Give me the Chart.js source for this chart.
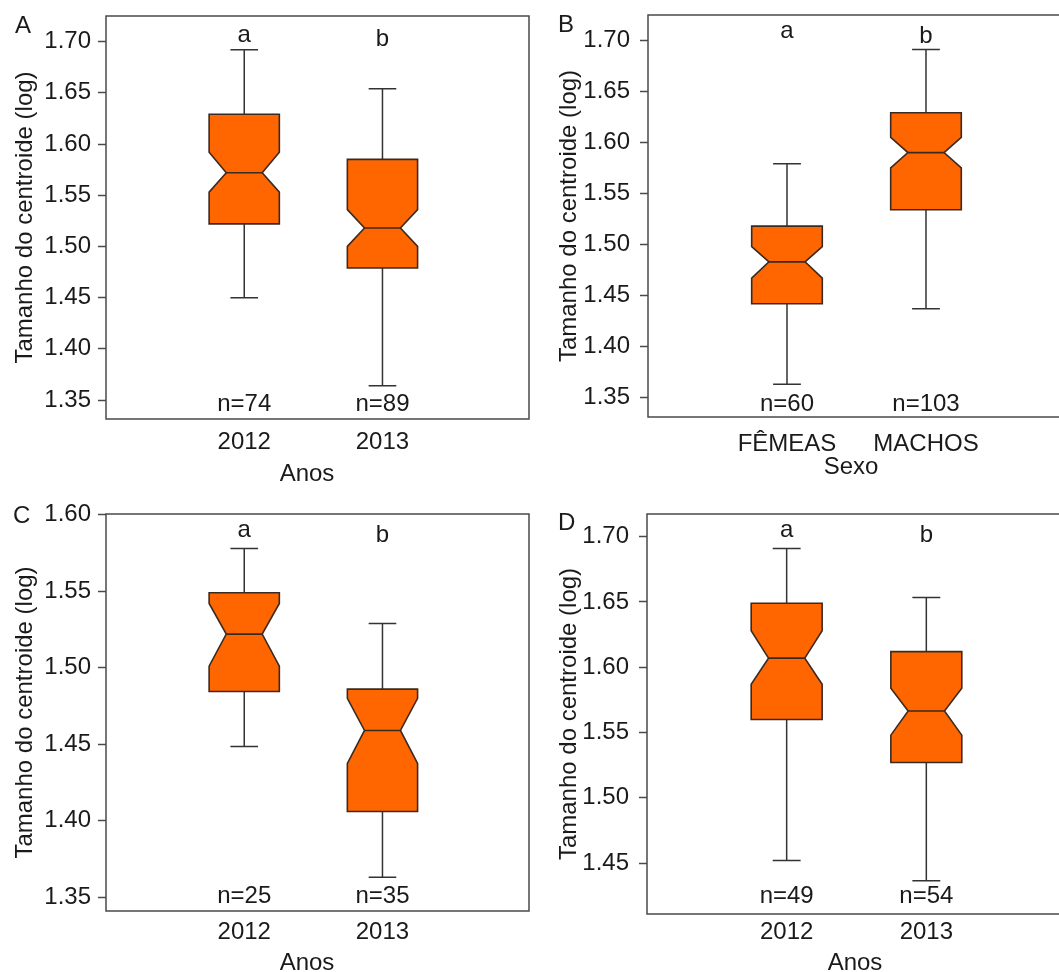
<!DOCTYPE html>
<html lang="pt">
<head>
<meta charset="utf-8">
<title>Tamanho do centroide (log)</title>
<script src="https://cdn.jsdelivr.net/npm/chart.js@4/dist/chart.umd.min.js"></script>
<style>
  html, body { margin: 0; padding: 0; background: #fff; }
  #figure { position: relative; width: 1059px; height: 972px; overflow: hidden; }
  #figure canvas { position: absolute; }
</style>
</head>
<body>
<div id="figure">
  <canvas id="panel-a"></canvas>
  <canvas id="panel-b"></canvas>
  <canvas id="panel-c"></canvas>
  <canvas id="panel-d"></canvas>
</div>
<script>
// ---- data ----
const yearCategories = ["2012", "2013"];
const sexCategories = ["FÊMEAS", "MACHOS"];
const groupLetters = ["a", "b"];

const yTicksFull = [1.35, 1.40, 1.45, 1.50, 1.55, 1.60, 1.65, 1.70];
const yTicksC = [1.35, 1.40, 1.45, 1.50, 1.55, 1.60];
const yTicksD = [1.45, 1.50, 1.55, 1.60, 1.65, 1.70];

// A: anos
const whiskerLowA = [1.450, 1.364];
const q1A = [1.522, 1.479];
const notchLowA = [1.553, 1.500];
const medianA = [1.572, 1.518];
const notchHighA = [1.592, 1.536];
const q3A = [1.629, 1.585];
const whiskerHighA = [1.692, 1.654];
const countsA = [74, 89];

// B: sexo
const whiskerLowB = [1.363, 1.437];
const q1B = [1.442, 1.534];
const notchLowB = [1.467, 1.575];
const medianB = [1.483, 1.590];
const notchHighB = [1.498, 1.605];
const q3B = [1.518, 1.629];
const whiskerHighB = [1.579, 1.691];
const countsB = [60, 103];

// C: anos (fêmeas)
const whiskerLowC = [1.4485, 1.363];
const q1C = [1.4845, 1.406];
const notchLowC = [1.501, 1.4375];
const medianC = [1.522, 1.459];
const notchHighC = [1.542, 1.480];
const q3C = [1.549, 1.486];
const whiskerHighC = [1.578, 1.529];
const countsC = [25, 35];

// D: anos (machos)
const whiskerLowD = [1.452, 1.4365];
const q1D = [1.560, 1.527];
const notchLowD = [1.587, 1.548];
const medianD = [1.607, 1.5665];
const notchHighD = [1.628, 1.584];
const q3D = [1.649, 1.612];
const whiskerHighD = [1.691, 1.6535];
const countsD = [49, 54];

// ---- look ----
const FONT = '"Liberation Sans", Arial, Helvetica, sans-serif';
const TEXT = "#1a1a1a";
const BOX_FILL = "#ff6600";
const BOX_LINE = "#3a2a22";
const AXIS_LINE = "#4a4a4a";

const panels = [
  {
    id: "panel-a", label: "A", categories: yearCategories, xTitle: "Anos", yTicks: yTicksFull,
    stats: { wl: whiskerLowA, q1: q1A, nl: notchLowA, med: medianA, nh: notchHighA, q3: q3A, wh: whiskerHighA, n: countsA },
    yMin: 1.3315, yMax: 1.725, xMax: 3.06,
    geo: { left: 0, top: 0, w: 530, h: 490, areaLeft: 106, areaTop: 16, areaRight: 529, areaBottom: 419,
      yTickPad: 7, yTitlePad: 11, xTickPad: 9, xTitleX: 307, xTitleY: 481,
      labelX: 15, labelY: 33, letterY: [42, 46], nY: 411, rightEdge: true },
  },
  {
    id: "panel-b", label: "B", categories: sexCategories, xTitle: "Sexo", yTicks: yTicksFull,
    stats: { wl: whiskerLowB, q1: q1B, nl: notchLowB, med: medianB, nh: notchHighB, q3: q3B, wh: whiskerHighB, n: countsB },
    yMin: 1.331, yMax: 1.7248, xMax: 2.957,
    geo: { left: 530, top: 0, w: 529, h: 490, areaLeft: 118, areaTop: 15, areaRight: 529, areaBottom: 417,
      yTickPad: 10, yTitlePad: 25, xTickPad: 13, xTitleX: 321, xTitleY: 474,
      labelX: 28, labelY: 32, letterY: [38, 43], nY: 411, rightEdge: false },
  },
  {
    id: "panel-c", label: "C", categories: yearCategories, xTitle: "Anos", yTicks: yTicksC,
    stats: { wl: whiskerLowC, q1: q1C, nl: notchLowC, med: medianC, nh: notchHighC, q3: q3C, wh: whiskerHighC, n: countsC },
    yMin: 1.341, yMax: 1.6005, xMax: 3.06,
    geo: { left: 0, top: 490, w: 530, h: 482, areaLeft: 106, areaTop: 24, areaRight: 529, areaBottom: 421,
      yTickPad: 7, yTitlePad: 11, xTickPad: 7, xTitleX: 307, xTitleY: 480,
      labelX: 13, labelY: 33, letterY: [47, 52], nY: 413, rightEdge: true },
  },
  {
    id: "panel-d", label: "D", categories: yearCategories, xTitle: "Anos", yTicks: yTicksD,
    stats: { wl: whiskerLowD, q1: q1D, nl: notchLowD, med: medianD, nh: notchHighD, q3: q3D, wh: whiskerHighD, n: countsD },
    yMin: 1.411, yMax: 1.7174, xMax: 2.95,
    geo: { left: 530, top: 490, w: 529, h: 482, areaLeft: 117, areaTop: 24, areaRight: 529, areaBottom: 424,
      yTickPad: 10, yTitlePad: 25, xTickPad: 4, xTitleX: 325, xTitleY: 480,
      labelX: 28, labelY: 40, letterY: [47, 52], nY: 413, rightEdge: false },
  },
];

// Notched boxes, whiskers, frame and annotations, all placed through the chart scales
const notchedBoxPlugin = {
  id: "notchedBoxes",
  afterDatasetsDraw(chart, args, opts) {
    const p = opts.panel;
    const g = p.geo;
    const s = p.stats;
    const { ctx, chartArea: area } = chart;
    const x = chart.scales.x;
    const y = chart.scales.y;
    const halfBox = 0.254;
    const halfNotch = 0.13;
    const halfCap = 0.1;

    ctx.save();
    ctx.lineJoin = "miter";
    p.categories.forEach((cat, i) => {
      const c = i + 1;
      const cx = x.getPixelForValue(c);
      const l = x.getPixelForValue(c - halfBox);
      const r = x.getPixelForValue(c + halfBox);
      const nl = x.getPixelForValue(c - halfNotch);
      const nr = x.getPixelForValue(c + halfNotch);
      const capL = x.getPixelForValue(c - halfCap);
      const capR = x.getPixelForValue(c + halfCap);
      const yWl = y.getPixelForValue(s.wl[i]);
      const yQ1 = y.getPixelForValue(s.q1[i]);
      const yNl = y.getPixelForValue(s.nl[i]);
      const yMed = y.getPixelForValue(s.med[i]);
      const yNh = y.getPixelForValue(s.nh[i]);
      const yQ3 = y.getPixelForValue(s.q3[i]);
      const yWh = y.getPixelForValue(s.wh[i]);

      // whiskers
      ctx.strokeStyle = "#333";
      ctx.lineWidth = 1.5;
      ctx.beginPath();
      ctx.moveTo(cx, yQ3); ctx.lineTo(cx, yWh);
      ctx.moveTo(capL, yWh); ctx.lineTo(capR, yWh);
      ctx.moveTo(cx, yQ1); ctx.lineTo(cx, yWl);
      ctx.moveTo(capL, yWl); ctx.lineTo(capR, yWl);
      ctx.stroke();

      // notched box
      ctx.beginPath();
      ctx.moveTo(l, yQ3);
      ctx.lineTo(r, yQ3);
      ctx.lineTo(r, yNh);
      ctx.lineTo(nr, yMed);
      ctx.lineTo(r, yNl);
      ctx.lineTo(r, yQ1);
      ctx.lineTo(l, yQ1);
      ctx.lineTo(l, yNl);
      ctx.lineTo(nl, yMed);
      ctx.lineTo(l, yNh);
      ctx.closePath();
      ctx.fillStyle = BOX_FILL;
      ctx.fill();
      ctx.strokeStyle = BOX_LINE;
      ctx.lineWidth = 1.6;
      ctx.stroke();

      ctx.beginPath();
      ctx.moveTo(nl, yMed);
      ctx.lineTo(nr, yMed);
      ctx.stroke();

      // group letter and sample size
      ctx.fillStyle = TEXT;
      ctx.font = `24px ${FONT}`;
      ctx.textAlign = "center";
      ctx.textBaseline = "alphabetic";
      ctx.fillText(groupLetters[i], cx, g.letterY[i]);
      ctx.fillText(`n=${s.n[i]}`, cx, g.nY);
    });

    // plot frame
    ctx.strokeStyle = AXIS_LINE;
    ctx.lineWidth = 1.5;
    ctx.beginPath();
    if (g.rightEdge) {
      ctx.moveTo(area.right, area.top);
      ctx.lineTo(area.left, area.top);
      ctx.lineTo(area.left, area.bottom);
      ctx.lineTo(area.right, area.bottom);
      ctx.closePath();
    } else {
      ctx.moveTo(area.right + 2, area.top);
      ctx.lineTo(area.left, area.top);
      ctx.lineTo(area.left, area.bottom);
      ctx.lineTo(area.right + 2, area.bottom);
    }
    ctx.stroke();

    // panel letter and x title
    ctx.fillStyle = TEXT;
    ctx.font = `24px ${FONT}`;
    ctx.textAlign = "left";
    ctx.textBaseline = "alphabetic";
    ctx.fillText(p.label, g.labelX, g.labelY);
    ctx.textAlign = "center";
    ctx.fillText(p.xTitle, g.xTitleX, g.xTitleY);
    ctx.restore();
  },
};

function buildChart(p) {
  const g = p.geo;
  const canvas = document.getElementById(p.id);
  canvas.width = g.w;
  canvas.height = g.h;
  canvas.style.left = g.left + "px";
  canvas.style.top = g.top + "px";
  canvas.style.width = g.w + "px";
  canvas.style.height = g.h + "px";

  const tickFont = { family: FONT, size: 24, lineHeight: 1.2 };

  return new Chart(canvas.getContext("2d"), {
    type: "scatter",
    data: {
      datasets: [
        {
          label: "mediana",
          data: p.stats.med.map((m, i) => ({ x: i + 1, y: m })),
          pointRadius: 0,
          showLine: false,
        },
      ],
    },
    plugins: [notchedBoxPlugin],
    options: {
      responsive: false,
      animation: false,
      devicePixelRatio: 1,
      layout: { padding: { left: 0, top: g.areaTop, right: g.w - g.areaRight, bottom: 0 } },
      plugins: {
        legend: { display: false },
        tooltip: { enabled: false },
        notchedBoxes: { panel: p },
      },
      scales: {
        x: {
          type: "linear",
          min: 0,
          max: p.xMax,
          grid: { display: false, drawTicks: false },
          border: { display: false },
          afterBuildTicks: (scale) => {
            scale.ticks = p.categories.map((c, i) => ({ value: i + 1 }));
          },
          ticks: {
            autoSkip: false,
            maxRotation: 0,
            padding: g.xTickPad,
            color: TEXT,
            font: tickFont,
            callback: (value, index) => p.categories[index],
          },
          afterFit: (scale) => {
            scale.height = g.h - g.areaBottom;
            scale.paddingLeft = 0;
            scale.paddingRight = 0;
          },
        },
        y: {
          type: "linear",
          min: p.yMin,
          max: p.yMax,
          grid: {
            drawOnChartArea: false,
            drawTicks: true,
            tickLength: 8,
            tickColor: AXIS_LINE,
            tickWidth: 1.5,
          },
          border: { display: false },
          afterBuildTicks: (scale) => {
            scale.ticks = p.yTicks.map((v) => ({ value: v }));
          },
          ticks: {
            autoSkip: false,
            padding: g.yTickPad,
            color: TEXT,
            font: tickFont,
            callback: (value) => Number(value).toFixed(2),
          },
          title: {
            display: true,
            text: "Tamanho do centroide (log)",
            color: TEXT,
            font: tickFont,
            padding: { top: g.yTitlePad, bottom: 0 },
          },
          afterFit: (scale) => {
            scale.width = g.areaLeft;
            scale.paddingTop = 0;
            scale.paddingBottom = 0;
          },
        },
      },
    },
  });
}

panels.forEach(buildChart);
</script>
</body>
</html>
